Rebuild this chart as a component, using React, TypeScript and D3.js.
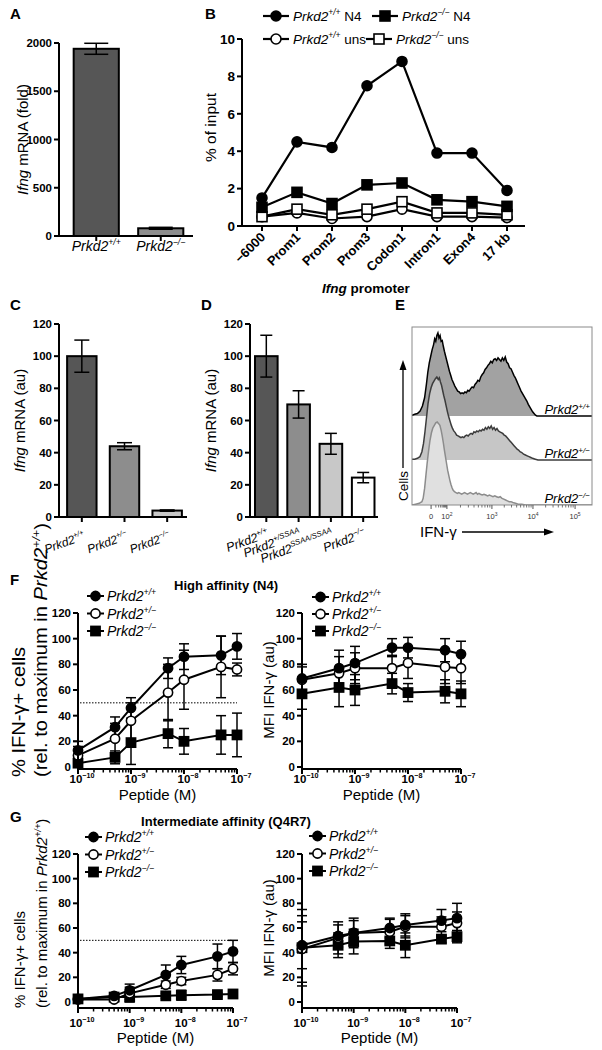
import React from "react";
import * as d3 from "d3";

const FONT = "'Liberation Sans', Arial, Helvetica, sans-serif";
const MINUS = "\u2212";

// ---------------- Panel A data ----------------
const aGenotypes = ["+/+", `${MINUS}/${MINUS}`];
const aMeans = [1940, 80];
const aErrs = [57, 10];
const aTicks = [0, 500, 1000, 1500, 2000];

// ---------------- Panel B data ----------------
const bSites = [`${MINUS}6000`, "Prom1", "Prom2", "Prom3", "Codon1", "Intron1", "Exon4", "17 kb"];
const bWtN4 = [1.5, 4.5, 4.2, 7.5, 8.8, 3.9, 3.9, 1.9];
const bKoN4 = [1.0, 1.8, 1.2, 2.2, 2.3, 1.4, 1.3, 1.05];
const bWtUns = [0.5, 0.7, 0.4, 0.5, 0.9, 0.5, 0.5, 0.45];
const bKoUns = [0.5, 0.9, 0.6, 0.9, 1.3, 0.7, 0.7, 0.6];
const bTicks = [0, 2, 4, 6, 8, 10];

// ---------------- Panel C data ----------------
const cGenotypes = ["+/+", `+/${MINUS}`, `${MINUS}/${MINUS}`];
const cMeans = [100, 44, 4];
const cErrs = [10, 2.2, 0.4];

// ---------------- Panel D data ----------------
const dGenotypes = ["+/+", "+/SSAA", "SSAA/SSAA", `${MINUS}/${MINUS}`];
const dMeans = [100, 70, 45.5, 24.5];
const dErrs = [13, 8.5, 6.5, 3.2];
const cdTicks = [0, 20, 40, 60, 80, 100, 120];

// ---------------- Panel E data (display channel 0..1000, counts % of peak) ----------------
const eTickChannels = [106, 194, 444, 672, 906];
const eTickBase = ["0", "10", "10", "10", "10"];
const eTickExp = ["", "2", "3", "4", "5"];
const eGenotypes = ["+/+", `+/${MINUS}`, `${MINUS}/${MINUS}`];
const eWT: [number, number][] = [[0,1],[15,2],[30,3],[45,6],[58,12],[70,22],[80,38],[88,53],[96,64],[104,72],[112,80],[120,86],[126,93],[132,90],[138,97],[144,100],[150,94],[156,97],[162,90],[168,91],[174,84],[180,78],[187,72],[194,66],[201,60],[208,54],[215,49],[222,44],[230,40],[238,36],[246,33],[254,30],[262,29],[270,27],[278,28],[286,27],[294,29],[302,28],[310,31],[318,30],[326,33],[334,35],[342,34],[350,38],[358,40],[366,43],[374,42],[382,47],[390,50],[398,52],[406,56],[414,58],[422,61],[430,63],[438,66],[446,64],[454,68],[462,69],[470,67],[478,70],[486,68],[494,66],[502,70],[510,67],[518,71],[526,65],[534,63],[542,58],[550,57],[558,53],[566,49],[574,46],[582,42],[590,38],[598,34],[606,30],[614,27],[622,24],[630,21],[638,18],[646,14],[654,11],[662,8],[670,5],[678,3],[686,1],[694,0]];
const eHet: [number, number][] = [[0,1],[15,1],[30,2],[44,4],[55,10],[64,20],[72,34],[80,50],[89,68],[98,80],[106,87],[114,92],[122,95],[130,98],[138,100],[146,97],[152,99],[158,94],[164,90],[170,84],[176,78],[183,72],[190,65],[197,58],[204,52],[211,47],[218,42],[225,38],[232,35],[240,33],[248,30],[256,29],[264,28],[272,27],[280,28],[288,27],[296,29],[304,30],[312,29],[320,31],[328,32],[336,31],[344,34],[352,33],[360,35],[368,34],[376,36],[384,35],[392,37],[400,36],[408,39],[416,37],[424,40],[432,38],[440,41],[448,37],[456,39],[464,36],[472,38],[480,35],[488,34],[496,33],[504,32],[512,30],[520,29],[528,27],[536,25],[544,23],[552,21],[560,19],[568,17],[576,15],[584,13],[592,12],[600,10],[610,9],[620,7],[630,6],[640,5],[650,4],[660,3],[670,2],[685,1],[700,0]];
const eKO: [number, number][] = [[0,0],[20,1],[40,2],[55,4],[62,8],[70,20],[77,35],[84,50],[92,65],[100,78],[108,87],[116,93],[124,96],[132,99],[140,100],[148,98],[155,96],[162,90],[168,83],[174,75],[180,66],[186,58],[192,50],[198,42],[204,36],[210,30],[216,25],[222,21],[228,18],[236,16],[244,15],[252,14],[260,15],[268,14],[276,13],[284,14],[292,15],[300,14],[308,13],[316,14],[324,15],[332,14],[340,13],[348,14],[356,15],[364,13],[372,14],[380,13],[390,12],[400,13],[410,12],[420,11],[430,12],[440,11],[450,10],[460,11],[470,10],[480,9],[490,10],[500,8],[510,7],[520,6],[530,5],[540,4],[550,4],[560,3],[575,2],[590,1],[610,1],[630,0]];

// ---------------- Panels F / G data ----------------
const peptideConc = [1e-10, 5e-10, 1e-9, 5e-9, 1e-8, 5e-8, 1e-7];
const doseGenotypes = ["+/+", `+/${MINUS}`, `${MINUS}/${MINUS}`];
const logTicks = [1e-10, 1e-9, 1e-8, 1e-7];
const logTickExp = [`${MINUS}10`, `${MINUS}9`, `${MINUS}8`, `${MINUS}7`];
const pctTicks = [0, 20, 40, 60, 80, 100, 120];

const fPctWT = [13, 31, 46, 77, 86, 87, 94];
const fPctWTErr = [7, 8, 8, 8, 10, 15, 10];
const fPctHet = [9, 22, 36, 58, 68, 78, 76];
const fPctHetErr = [7, 12, 14, 22, 23, 24, 5];
const fPctKO = [3, 7.5, 19, 26, 20, 25, 25];
const fPctKOErr = [4, 5, 17, 11, 10, 15, 17];

const fMfiWT = [69, 77, 81, 93, 93, 91, 88];
const fMfiWTErr = [9, 14, 13, 7, 8, 9, 10];
const fMfiHet = [68, 73, 77, 77, 81, 78, 77];
const fMfiHetErr = [12, 13, 12, 10, 12, 13, 12];
const fMfiKO = [57, 62, 60, 65, 58, 59, 57];
const fMfiKOErr = [12, 15, 12, 8, 7, 9, 10];

const gPctWT = [2.5, 5, 9.5, 22, 30, 37, 41];
const gPctWTErr = [1, 1.5, 5, 8, 7, 10, 9];
const gPctHet = [2, 2, 7, 14, 17, 22, 27];
const gPctHetErr = [1, 1.5, 5, 3, 3, 5, 5];
const gPctKO = [2.5, 4, 4, 5, 5.5, 6, 6.5];
const gPctKOErr = [1, 1, 4, 2, 4, 1.5, 1.5];

const gMfiWT = [46, 53.5, 56, 60, 62.5, 66, 68];
const gMfiWTErr = [19, 9, 10, 8, 9, 9, 12];
const gMfiHet = [43, 52, 56, 57, 61, 61, 64];
const gMfiHetErr = [27, 13, 12, 10, 9, 8, 9];
const gMfiKO = [44, 46, 49, 49.5, 46, 51, 53];
const gMfiKOErr = [31, 10, 10, 6, 10, 3, 5];

// ---------------- helpers ----------------
function Sup({ base, sup, fs, italic = true, post, postItalic = false, bold = false, ...rest }: any) {
  const supFs = fs * 0.62;
  return (
    <text fontSize={fs} fontWeight={bold ? "bold" : "normal"} {...rest}>
      <tspan fontStyle={italic ? "italic" : "normal"}>{base}</tspan>
      <tspan fontStyle={italic ? "italic" : "normal"} fontSize={supFs} dy={-fs * 0.42}>{sup}</tspan>
      {post !== undefined && (
        <tspan fontStyle={postItalic ? "italic" : "normal"} dy={fs * 0.42}>{post}</tspan>
      )}
    </text>
  );
}

function YAxis({ x, scale, ticks, fs = 11.5, tickLen = 5, lw = 2, top, bottom }: any) {
  return (
    <g>
      <line x1={x} x2={x} y1={top} y2={bottom} stroke="#000" strokeWidth={lw} />
      {ticks.map((t: number) => (
        <g key={t}>
          <line x1={x - tickLen} x2={x} y1={scale(t)} y2={scale(t)} stroke="#000" strokeWidth={lw} />
          <text x={x - tickLen - 2} y={scale(t)} dy="0.36em" textAnchor="end" fontWeight="bold" fontSize={fs}>
            {t}
          </text>
        </g>
      ))}
    </g>
  );
}

function Marker({ shape, filled, cx, cy, r = 4.5 }: any) {
  const fill = filled ? "#000" : "#fff";
  if (shape === "circle")
    return <circle cx={cx} cy={cy} r={r} fill={fill} stroke="#000" strokeWidth={1.6} />;
  return <rect x={cx - r} y={cy - r} width={2 * r} height={2 * r} fill={fill} stroke="#000" strokeWidth={1.6} />;
}

function ErrBar({ x, yHi, yLo, cap, lw = 1.5 }: any) {
  return (
    <g stroke="#000" strokeWidth={lw}>
      <line x1={x} x2={x} y1={yHi} y2={yLo} />
      <line x1={x - cap / 2} x2={x + cap / 2} y1={yHi} y2={yHi} />
      <line x1={x - cap / 2} x2={x + cap / 2} y1={yLo} y2={yLo} />
    </g>
  );
}

// ---------------- Bar panel ----------------
function BarPanel({ letter, letterX, letterY, genotypes, means, errs, fills, yMax, ticks, axisX, axisEnd, top, zero,
  bandRange, padIn, padOut, cap, yLabel, yLabelX, labelRotate, labelY, labelDx, labelFs, tickFs }: any) {
  const x = d3.scaleBand<string>().domain(genotypes).range(bandRange).paddingInner(padIn).paddingOuter(padOut);
  const y = d3.scaleLinear().domain([0, yMax]).range([zero, top]);
  const bw = x.bandwidth();
  return (
    <g>
      <text x={letterX} y={letterY} fontWeight="bold" fontSize={15}>{letter}</text>
      {genotypes.map((g: string, i: number) => (
        <rect key={g} x={x(g)} y={y(means[i])} width={bw} height={y(0) - y(means[i])}
          fill={fills[i]} stroke="#000" strokeWidth={2} />
      ))}
      {genotypes.map((g: string, i: number) => (
        <ErrBar key={g} x={(x(g) as number) + bw / 2} yHi={y(means[i] + errs[i])} yLo={y(means[i] - errs[i])} cap={cap} />
      ))}
      <YAxis x={axisX} scale={y} ticks={ticks} top={top} bottom={zero} fs={tickFs} />
      <line x1={axisX} x2={axisEnd} y1={zero} y2={zero} stroke="#000" strokeWidth={2} />
      {genotypes.map((g: string) => (
        <line key={g} x1={(x(g) as number) + bw / 2} x2={(x(g) as number) + bw / 2} y1={zero} y2={zero + 5} stroke="#000" strokeWidth={2} />
      ))}
      <text transform={`translate(${yLabelX},${(top + zero) / 2}) rotate(-90)`} textAnchor="middle" fontSize={15}>
        <tspan fontStyle="italic">Ifng</tspan> {yLabel}
      </text>
      {genotypes.map((g: string) => {
        const cx = (x(g) as number) + bw / 2;
        if (labelRotate === 0)
          return <Sup key={g} base="Prkd2" sup={g} fs={labelFs} textAnchor="middle" x={cx} y={labelY} />;
        return (
          <Sup key={g} base="Prkd2" sup={g} fs={labelFs} textAnchor="end"
            transform={`translate(${cx + labelDx},${labelY}) rotate(${labelRotate})`} />
        );
      })}
    </g>
  );
}

// ---------------- Panel B ----------------
function PanelB() {
  const x = d3.scalePoint<string>().domain(bSites).range([262, 507]);
  const y = d3.scaleLinear().domain([0, 10]).range([226, 39]);
  const series = [
    { vals: bWtUns, shape: "circle", filled: false },
    { vals: bKoUns, shape: "square", filled: false },
    { vals: bKoN4, shape: "square", filled: true },
    { vals: bWtN4, shape: "circle", filled: true },
  ];
  const line = d3.line<number>().x((_, i) => x(bSites[i]) as number).y((v) => y(v));
  const legend = [
    { shape: "circle", filled: true, sup: "+/+", post: " N4", lx: 263, ly: 16 },
    { shape: "square", filled: true, sup: `${MINUS}/${MINUS}`, post: " N4", lx: 372, ly: 16 },
    { shape: "circle", filled: false, sup: "+/+", post: " uns", lx: 263, ly: 39 },
    { shape: "square", filled: false, sup: `${MINUS}/${MINUS}`, post: " uns", lx: 366, ly: 39 },
  ];
  return (
    <g>
      <text x={205} y={19} fontWeight="bold" fontSize={15}>B</text>
      {legend.map((l, i) => (
        <g key={i}>
          <line x1={l.lx} x2={l.lx + 26} y1={l.ly} y2={l.ly} stroke="#000" strokeWidth={2.2} />
          <Marker shape={l.shape} filled={l.filled} cx={l.lx + 13} cy={l.ly} r={5} />
          <Sup base="Prkd2" sup={l.sup} post={l.post} fs={13.5} x={l.lx + 30} y={l.ly + 5} />
        </g>
      ))}
      {series.map((s, k) => (
        <path key={k} d={line(s.vals) as string} fill="none" stroke="#000" strokeWidth={2.2} />
      ))}
      {series.map((s, k) =>
        s.vals.map((v, i) => (
          <Marker key={`${k}-${i}`} shape={s.shape} filled={s.filled} cx={x(bSites[i])} cy={y(v)} r={5} />
        ))
      )}
      <YAxis x={242} scale={y} ticks={bTicks} top={39} bottom={226} fs={13.5} />
      <line x1={242} x2={525} y1={226} y2={226} stroke="#000" strokeWidth={2} />
      {bSites.map((s) => (
        <g key={s}>
          <line x1={x(s)} x2={x(s)} y1={226} y2={231} stroke="#000" strokeWidth={2} />
          <text transform={`translate(${(x(s) as number) + 4},${238}) rotate(-45)`} textAnchor="end"
            fontWeight="bold" fontSize={13}>{s}</text>
        </g>
      ))}
      <text transform={`translate(216,${(39 + 226) / 2 - 5}) rotate(-90)`} textAnchor="middle" fontSize={15.5}>% of input</text>
      <text x={366} y={293} textAnchor="middle" fontWeight="bold" fontSize={13.5}>
        <tspan fontStyle="italic">Ifng</tspan> promoter
      </text>
    </g>
  );
}

// ---------------- Panel E ----------------
function PanelE() {
  const bx0 = 412, bx1 = 592, by0 = 327, by1 = 505;
  const x = d3.scaleLinear().domain([0, 1000]).range([bx0, bx1]);
  const h = 0.83;
  const hists = [
    { data: eWT, base: 416, fill: "#a2a2a2", stroke: "#000" },
    { data: eHet, base: 460, fill: "#c6c6c6", stroke: "#3c3c3c" },
    { data: eKO, base: 505, fill: "#e0e0e0", stroke: "#8c8c8c" },
  ];
  const minors: number[] = [];
  for (let k = 0; k < eTickChannels.length - 1; k++) {
    const a = eTickChannels[k], b = eTickChannels[k + 1];
    for (let m = 2; m <= 9; m++) minors.push(a + (b - a) * Math.log10(m));
  }
  return (
    <g>
      <text x={395} y={310} fontWeight="bold" fontSize={15}>E</text>
      <defs>
        <clipPath id="eclip"><rect x={bx0} y={by0} width={bx1 - bx0} height={by1 - by0} /></clipPath>
      </defs>
      <g clipPath="url(#eclip)">
        {hists.map((hs, k) => {
          const area = d3.area<[number, number]>().x((d) => x(d[0])).y0(hs.base).y1((d) => hs.base - d[1] * h);
          const pts: [number, number][] = [...hs.data, [1000, 0]];
          const line = d3.line<[number, number]>().x((d) => x(d[0])).y((d) => hs.base - d[1] * h);
          return (
            <g key={k}>
              <path d={area(hs.data) as string} fill={hs.fill} />
              <path d={line(pts) as string} fill="none" stroke={hs.stroke} strokeWidth={1.5} />
            </g>
          );
        })}
      </g>
      <rect x={bx0} y={by0} width={bx1 - bx0} height={by1 - by0} fill="none" stroke="#8a8a8a" strokeWidth={1} />
      {eGenotypes.map((g, i) => (
        <Sup key={g} base="Prkd2" sup={g} fs={13} textAnchor="end" x={590} y={hists[i].base - 2} />
      ))}
      {minors.map((m, i) => (
        <line key={i} x1={x(m)} x2={x(m)} y1={by1} y2={by1 + 2.5} stroke="#555" strokeWidth={0.8} />
      ))}
      {eTickChannels.map((c, i) => (
        <g key={c}>
          <line x1={x(c)} x2={x(c)} y1={by1} y2={by1 + 4} stroke="#555" strokeWidth={1} />
          <text x={x(c)} y={by1 + 14} textAnchor="middle" fontSize={7.5} fill="#333">
            {eTickBase[i]}
            {eTickExp[i] && <tspan fontSize={5} dy={-3}>{eTickExp[i]}</tspan>}
          </text>
        </g>
      ))}
      <text x={420} y={537} fontSize={15}>IFN-γ</text>
      <line x1={462} x2={546} y1={532} y2={532} stroke="#000" strokeWidth={1.3} />
      <path d="M554,532 L544,528.5 L544,535.5 Z" fill="#000" />
      <text transform="translate(408,486) rotate(-90)" textAnchor="middle" fontSize={13.5}>Cells</text>
      <line x1={403} x2={403} y1={468} y2={369} stroke="#000" strokeWidth={1.3} />
      <path d="M403,360 L399.5,370 L406.5,370 Z" fill="#000" />
    </g>
  );
}

// ---------------- Dose-response panel ----------------
function DosePanel({ x0, x1, zero, top, axisY, series, legendX, legendY, legendStep, dotted, yLabel, tickLabelY, peptideY }: any) {
  const x = d3.scaleLog().domain([1e-10, 1e-7]).range([x0, x1]);
  const y = d3.scaleLinear().domain([0, 120]).range([zero, top]);
  const allTicks = x.ticks();
  const isMajor = (t: number) => Math.abs(Math.log10(t) - Math.round(Math.log10(t))) < 1e-6;
  const line = d3.line<number>().x((_, i) => x(peptideConc[i])).y((v) => y(v));
  return (
    <g>
      {dotted && (
        <line x1={x0 + 2} x2={x1} y1={y(50)} y2={y(50)} stroke="#000" strokeWidth={1} strokeDasharray="1.5,1.5" />
      )}
      {series.map((s: any, k: number) => (
        <path key={k} d={line(s.vals) as string} fill="none" stroke="#000" strokeWidth={2} />
      ))}
      {series.map((s: any, k: number) =>
        s.vals.map((v: number, i: number) => (
          <ErrBar key={`${k}-${i}`} x={x(peptideConc[i])} yHi={y(v + s.errs[i])} yLo={y(Math.max(0, v - s.errs[i]))} cap={10} />
        ))
      )}
      {series.map((s: any, k: number) =>
        s.vals.map((v: number, i: number) => (
          <Marker key={`${k}-${i}`} shape={s.shape} filled={s.filled} cx={x(peptideConc[i])} cy={y(v)} r={4.6} />
        ))
      )}
      <YAxis x={x0} scale={y} ticks={pctTicks} top={top} bottom={axisY} fs={11.5} />
      <line x1={x0} x2={x1} y1={axisY} y2={axisY} stroke="#000" strokeWidth={2} />
      {allTicks.map((t, i) => (
        <line key={i} x1={x(t)} x2={x(t)} y1={axisY} y2={axisY + (isMajor(t) ? 5 : 3.5)} stroke="#000" strokeWidth={isMajor(t) ? 2 : 1.5} />
      ))}
      {logTicks.map((t, i) => (
        <Sup key={t} base="10" sup={logTickExp[i]} italic={false} bold fs={11.5} textAnchor="middle" x={x(t) + 4} y={tickLabelY} />
      ))}
      <text x={(x0 + x1) / 2} y={peptideY} textAnchor="middle" fontSize={15}>Peptide (M)</text>
      {[...series].reverse().map((s: any, k: number) => (
        <g key={k}>
          <line x1={legendX} x2={legendX + 17} y1={legendY + k * legendStep} y2={legendY + k * legendStep} stroke="#000" strokeWidth={2} />
          <Marker shape={s.shape} filled={s.filled} cx={legendX + 8.5} cy={legendY + k * legendStep} r={4.6} />
          <Sup base="Prkd2" sup={s.name} fs={14} x={legendX + 20} y={legendY + k * legendStep + 5} />
        </g>
      ))}
      {yLabel}
    </g>
  );
}

function mkSeries(wt: number[], wtE: number[], het: number[], hetE: number[], ko: number[], koE: number[]) {
  return [
    { name: doseGenotypes[2], vals: ko, errs: koE, shape: "square", filled: true },
    { name: doseGenotypes[1], vals: het, errs: hetE, shape: "circle", filled: false },
    { name: doseGenotypes[0], vals: wt, errs: wtE, shape: "circle", filled: true },
  ];
}

function PctLabel({ bottom, fs = 15, stretch = 1 }: any) {
  return (
    <g>
      <text transform={`translate(25,${bottom}) rotate(-90) scale(${stretch},1)`} fontSize={fs}>% IFN-γ+ cells</text>
      <text transform={`translate(47,${bottom}) rotate(-90) scale(${stretch},1)`} fontSize={fs}>
        (rel. to maximum in <tspan fontStyle="italic">Prkd2</tspan>
        <tspan fontStyle="italic" fontSize={fs * 0.62} dy={-fs * 0.4}>+/+</tspan>
        <tspan dy={fs * 0.4}>)</tspan>
      </text>
    </g>
  );
}

function MfiLabel({ center }: any) {
  return (
    <text transform={`translate(274,${center}) rotate(-90)`} textAnchor="middle" fontSize={15}>MFI IFN-γ (au)</text>
  );
}

export default function App() {
  const aFills = ["#565656", "#8d8d8d"];
  const cFills = ["#565656", "#8d8d8d", "#c8c8c8"];
  const dFills = ["#565656", "#8d8d8d", "#c8c8c8", "#ffffff"];
  return (
    <svg width={602} height={1050} style={{ position: "absolute", left: 0, top: 0, display: "block" }} fontFamily={FONT}>
      <rect width={602} height={1050} fill="#fff" />
      <BarPanel letter="A" letterX={10} letterY={19} genotypes={aGenotypes} means={aMeans} errs={aErrs} fills={aFills}
        yMax={2000} ticks={aTicks} axisX={59} axisEnd={193} top={43} zero={236} bandRange={[64, 193]} padIn={0.3} padOut={0.15}
        cap={24} yLabel="mRNA (fold)" yLabelX={28} labelRotate={0} labelY={251} labelDx={0} labelFs={14} tickFs={11.5} />
      <PanelB />
      <BarPanel letter="C" letterX={10} letterY={310} genotypes={cGenotypes} means={cMeans} errs={cErrs} fills={cFills}
        yMax={120} ticks={cdTicks} axisX={59} axisEnd={187} top={324} zero={517} bandRange={[59, 190]} padIn={0.31} padOut={0.19}
        cap={15} yLabel="mRNA (au)" yLabelX={25} labelRotate={-20} labelY={539} labelDx={4} labelFs={12} tickFs={11.5} />
      <BarPanel letter="D" letterX={201} letterY={310} genotypes={dGenotypes} means={dMeans} errs={dErrs} fills={dFills}
        yMax={120} ticks={cdTicks} axisX={250} axisEnd={378} top={324} zero={517} bandRange={[250, 379.5]} padIn={0.3} padOut={0.155}
        cap={12} yLabel="mRNA (au)" yLabelX={216} labelRotate={-20} labelY={537} labelDx={3} labelFs={12.5} tickFs={11.5} />
      <PanelE />

      {/* F */}
      <text x={10} y={585} fontWeight="bold" fontSize={15}>F</text>
      <text x={226} y={590} textAnchor="middle" fontWeight="bold" fontSize={13}>High affinity (N4)</text>
      <DosePanel x0={78} x1={237} zero={767} top={613} axisY={769}
        series={mkSeries(fPctWT, fPctWTErr, fPctHet, fPctHetErr, fPctKO, fPctKOErr)}
        legendX={87} legendY={596} legendStep={17.5} dotted tickLabelY={783} peptideY={800}
        yLabel={<PctLabel bottom={777} fs={17.5} stretch={1.15} />} />
      <DosePanel x0={302} x1={461} zero={767} top={613} axisY={769}
        series={mkSeries(fMfiWT, fMfiWTErr, fMfiHet, fMfiHetErr, fMfiKO, fMfiKOErr)}
        legendX={312} legendY={597} legendStep={17} dotted={false} tickLabelY={783} peptideY={800}
        yLabel={<MfiLabel center={690} />} />

      {/* G */}
      <text x={10} y={822} fontWeight="bold" fontSize={15}>G</text>
      <text x={226} y={826} textAnchor="middle" fontWeight="bold" fontSize={13}>Intermediate affinity (Q4R7)</text>
      <DosePanel x0={78} x1={233} zero={1002} top={854} axisY={1008}
        series={mkSeries(gPctWT, gPctWTErr, gPctHet, gPctHetErr, gPctKO, gPctKOErr)}
        legendX={85} legendY={837} legendStep={17.5} dotted tickLabelY={1027} peptideY={1043}
        yLabel={<PctLabel bottom={1008} />} />
      <DosePanel x0={302} x1={457} zero={1002} top={854} axisY={1008}
        series={mkSeries(gMfiWT, gMfiWTErr, gMfiHet, gMfiHetErr, gMfiKO, gMfiKOErr)}
        legendX={309} legendY={836} legendStep={17.5} dotted={false} tickLabelY={1027} peptideY={1043}
        yLabel={<MfiLabel center={928} />} />
    </svg>
  );
}
